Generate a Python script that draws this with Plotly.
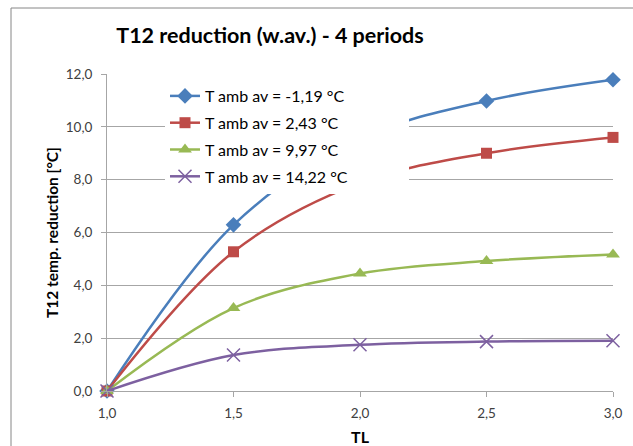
import plotly.graph_objects as go

tl = [1.0, 1.5, 2.0, 2.5, 3.0]
names = ["T amb av = -1,19 °C", "T amb av = 2,43 °C", "T amb av = 9,97 °C", "T amb av = 14,22 °C"]
s1 = [0.0, 6.29, 9.55, 10.98, 11.78]
s2 = [0.0, 5.27, 7.88, 9.00, 9.60]
s3 = [0.0, 3.14, 4.45, 4.92, 5.17]
s4 = [0.0, 1.36, 1.75, 1.87, 1.90]
series = [s1, s2, s3, s4]
colors = ["#4A7EBB", "#BE4B48", "#98B954", "#7D60A0"]
symbols = ["diamond", "square", "triangle-up", "x-thin"]
msizes = [12, 11, 12, 13]

FONT = "Lato"
fig = go.Figure()
for i, (ys, nm) in enumerate(zip(series, names)):
    marker = dict(symbol=symbols[i], size=msizes[i], color=colors[i])
    if symbols[i] == "x-thin":
        marker["line"] = dict(color=colors[i], width=1.5)
    fig.add_trace(go.Scatter(
        x=tl, y=ys, name=nm, mode="lines+markers",
        line=dict(color=colors[i], width=2.5, shape="spline", smoothing=1),
        marker=marker, cliponaxis=False, legendgroup=str(i)))

W0, H0 = 633, 446
L, R, T, B = 107, 613, 74, 391
pw, ph = R - L, B - T
def px(x): return (x - L) / pw
def py(y): return (B - y) / ph

fig.update_layout(
    width=W0, height=H0,
    margin=dict(l=L, r=W0 - R, t=T, b=H0 - B, autoexpand=False),
    paper_bgcolor="white", plot_bgcolor="white",
    separators=", ",
    font=dict(family=FONT, size=13, color="#404040"),
    title=dict(text="<b>T12 reduction (w.av.) - 4 periods</b>",
               x=270 / W0, xanchor="center", y=1 - 35 / H0, yanchor="middle",
               xref="container", yref="container",
               font=dict(family=FONT, size=21.5, color="#000000")),
    legend=dict(x=px(165), y=py(79), xanchor="left", yanchor="top",
                bgcolor="white", font=dict(family=FONT, size=16, color="#000000"),
                tracegroupgap=3, itemwidth=30),
    xaxis=dict(range=[1, 3], dtick=0.5, tickformat=".1f", showgrid=False,
               showline=True, linecolor="#A6A6A6", linewidth=1,
               ticks="outside", ticklen=5, tickcolor="#A6A6A6",
               ticklabelstandoff=5, automargin=False,
               tickfont=dict(family=FONT, size=13.5, color="#404040"),
               title=dict(text="<b>TL</b>", standoff=12,
                          font=dict(family=FONT, size=16, color="#000000")),
               zeroline=False),
    yaxis=dict(range=[0, 12], dtick=2, tickformat=".1f", showgrid=True,
               gridcolor="#A6A6A6", gridwidth=1,
               showline=True, linecolor="#A6A6A6", linewidth=1,
               ticks="outside", ticklen=5, tickcolor="#A6A6A6",
               ticklabelstandoff=6, automargin=False,
               tickfont=dict(family=FONT, size=13.5, color="#404040"),
               title=dict(text="<b>T12 temp. reduction [°C]</b>", standoff=3,
                          font=dict(family=FONT, size=15.5, color="#000000")),
               zeroline=False),
    shapes=[dict(type="rect", xref="paper", yref="paper",
                 x0=px(11), x1=px(650), y0=py(470), y1=py(8),
                 line=dict(color="#868686", width=1), fillcolor="rgba(0,0,0,0)",
                 layer="below"),
            dict(type="rect", xref="paper", yref="paper",
                 x0=px(165), x1=px(409), y0=py(193), y1=py(83),
                 line=dict(width=0), fillcolor="white", layer="above")],
)

fig.write_html("out.html")
